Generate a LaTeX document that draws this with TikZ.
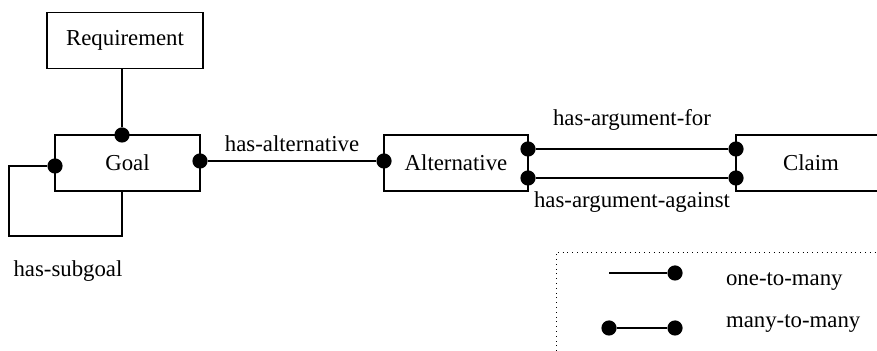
\documentclass[tikz,border=0pt]{standalone}
\usepackage{fontspec}
\setmainfont{Liberation Serif}
\usetikzlibrary{positioning}
\tikzstyle{entity} = [draw, line width=0.8pt, minimum height=28pt, inner sep=0pt]
\tikzstyle{dot} = [circle, fill, inner sep=0pt, minimum size=7.6pt]
\tikzstyle{rel} = [line width=0.8pt]

\begin{document}
\begin{tikzpicture}[x=0.5pt, y=-0.5pt, font=\fontsize{11.4}{13}\selectfont]
			\useasboundingbox (0,0) rectangle (877,351);
			\node[entity, minimum width=78pt] (req) at (125,40.5) {Requirement};
			\node[entity, minimum width=72.5pt] (goal) at (127.5,163) {Goal};
			\node[entity, minimum width=72pt] (alt) at (456,163) {Alternative};
			\node[entity, minimum width=75pt] (claim) at (811,163) {Claim};
			% end points
			\node[dot] (gtop) at (122,135) {};
			\node[dot] (gleft) at (55,166) {};
			\node[dot] (gright) at (200,161) {};
			\node[dot] (aleft) at (384,161) {};
			\node[dot] (afor) at (528,149) {};
			\node[dot] (aagainst) at (528,178) {};
			\node[dot] (cfor) at (736,149) {};
			\node[dot] (cagainst) at (736,178) {};
			% relations
			\draw[rel] (req.south -| gtop) -- (gtop);
			\draw[rel] (gleft) -| (9,236) -| (goal.south -| gtop);
			\node (sub) at (68,271) {has-subgoal};
			\draw[rel] (gright) -- node[above=1pt] {has-alternative} (aleft);
			\draw[rel] (afor) -- node[above=5.5pt] {has-argument-for} (cfor);
			\draw[rel] (aagainst) -- node[below=3.2pt] {has-argument-against} (cagainst);
			% legend
			\draw[dotted] (556,351) |- (877,252);
			\coordinate (os) at (609,273);
			\node[dot] (om) at (675,273) {};
			\draw[line width=0.7pt] (os) -- (om);
			\node[right] (onemany) at (719,282) {one-to-many};
			\node[dot] (ms) at (609,328) {};
			\node[dot] (mm) at (675,328) {};
			\draw[line width=0.7pt] (ms) -- (mm);
			\node[right] (manymany) at (719,324) {many-to-many};
		\end{tikzpicture}
\end{document}
